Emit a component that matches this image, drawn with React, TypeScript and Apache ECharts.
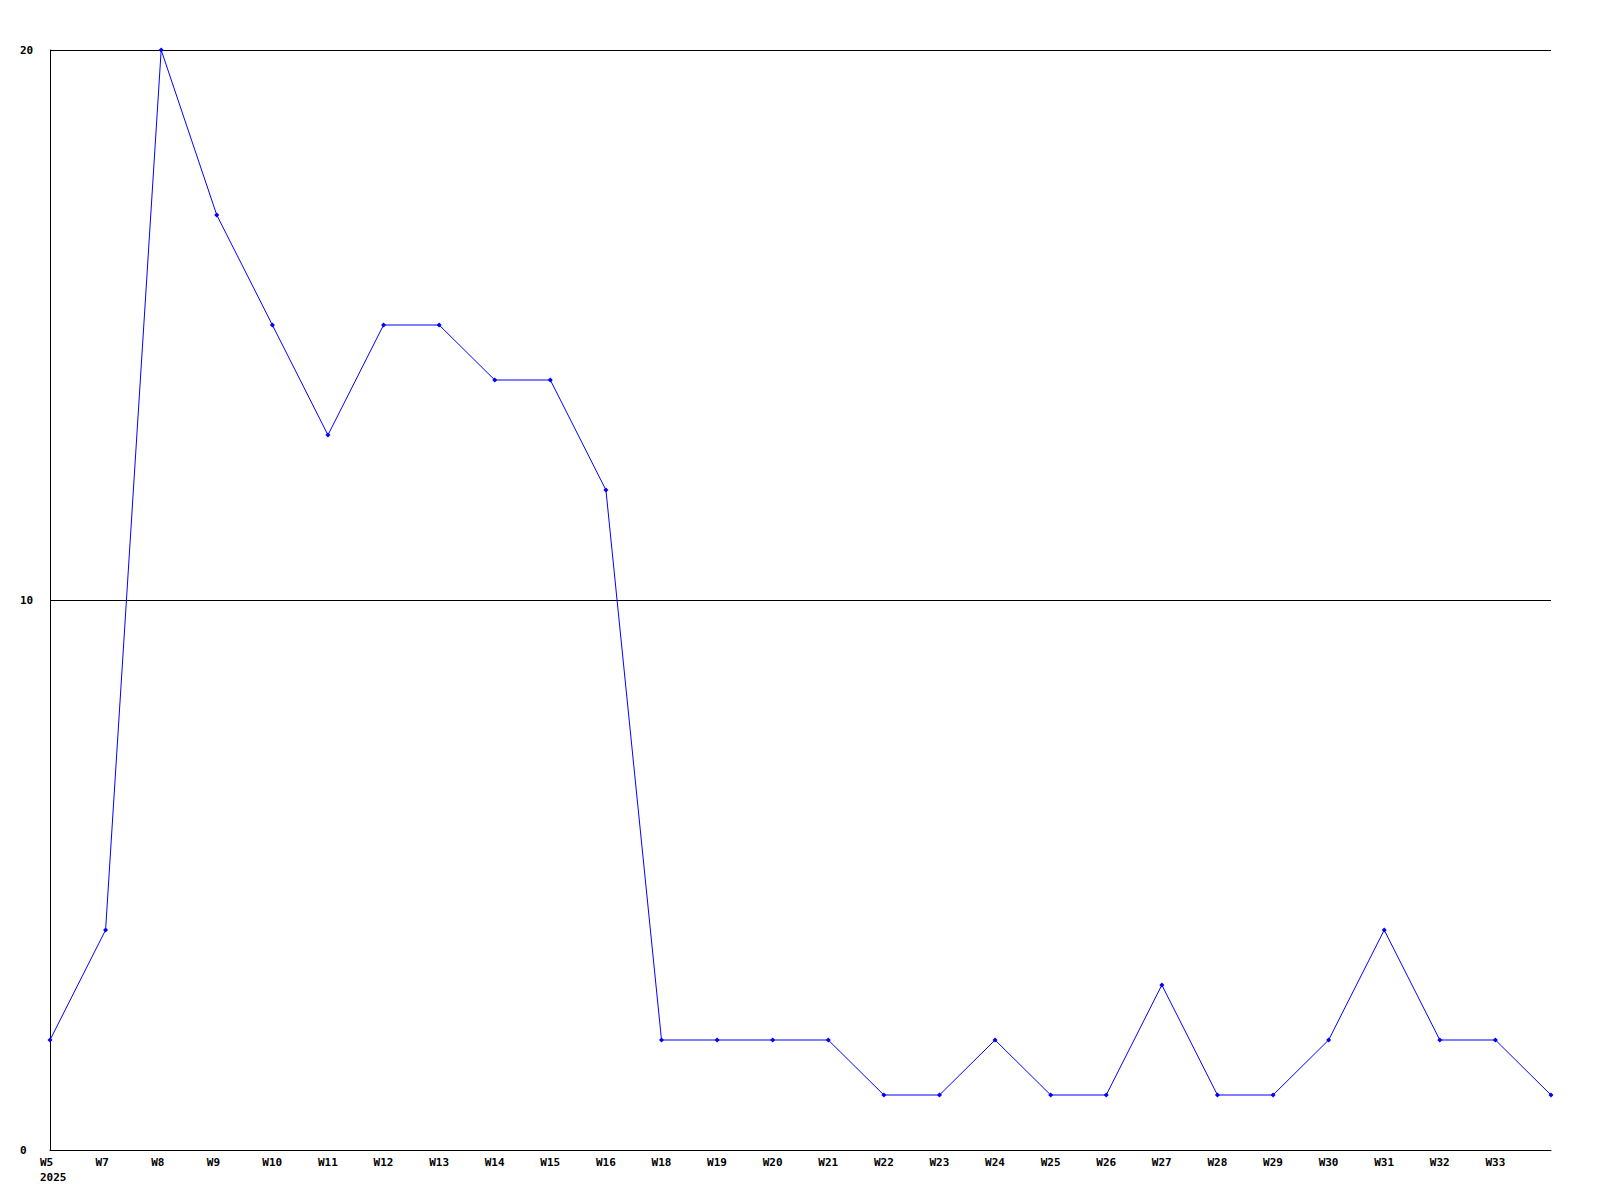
import React, { useEffect, useRef } from "react";
import * as echarts from "echarts";

const categories = [
  "W5\n2025", "W7", "W8", "W9", "W10", "W11", "W12", "W13", "W14", "W15", "W16",
  "W18", "W19", "W20", "W21", "W22", "W23", "W24", "W25", "W26", "W27", "W28",
  "W29", "W30", "W31", "W32", "W33", "",
];
const values = [
  2, 4, 20, 17, 15, 13, 15, 15, 14, 14, 12,
  2, 2, 2, 2, 1, 1, 2, 1, 1, 3, 1,
  1, 2, 4, 2, 2, 1,
];
const yTicks = { min: 0, max: 20, interval: 10 };

export default function App() {
  const ref = useRef<HTMLDivElement>(null);
  useEffect(() => {
    const chart = echarts.init(ref.current!, undefined, { renderer: "svg" });
    const font = "'DejaVu Sans Mono', monospace";
    chart.setOption({
      animation: false,
      backgroundColor: "#ffffff",
      grid: { left: 50, right: 49, top: 50, bottom: 50, containLabel: false },
      xAxis: {
        type: "category",
        data: categories,
        boundaryGap: false,
        axisLine: { show: true, lineStyle: { color: "#000", width: 1 } },
        axisTick: { show: false },
        splitLine: { show: false },
        axisLabel: {
          interval: 0,
          align: "left",
          margin: 5,
          color: "#000",
          fontFamily: font,
          fontWeight: "bold",
          fontSize: 11,
          lineHeight: 15,
          padding: [0, 0, 0, -10],
        },
      },
      yAxis: {
        type: "value",
        min: yTicks.min,
        max: yTicks.max,
        interval: yTicks.interval,
        axisLine: { show: true, lineStyle: { color: "#000", width: 1 } },
        axisTick: { show: false },
        splitLine: { show: true, lineStyle: { color: "#000", width: 1 } },
        axisLabel: {
          align: "left",
          margin: 30,
          color: "#000",
          fontFamily: font,
          fontWeight: "bold",
          fontSize: 11,
        },
      },
      series: [
        {
          type: "line",
          data: values,
          symbol: "diamond",
          symbolSize: 5,
          showSymbol: true,
          lineStyle: { color: "#0000ff", width: 1 },
          itemStyle: { color: "#0000ff" },
        },
      ],
    });
    return () => chart.dispose();
  }, []);
  return (
    <div
      ref={ref}
      style={{ position: "absolute", left: 0, top: 0, width: 1600, height: 1200 }}
    />
  );
}
